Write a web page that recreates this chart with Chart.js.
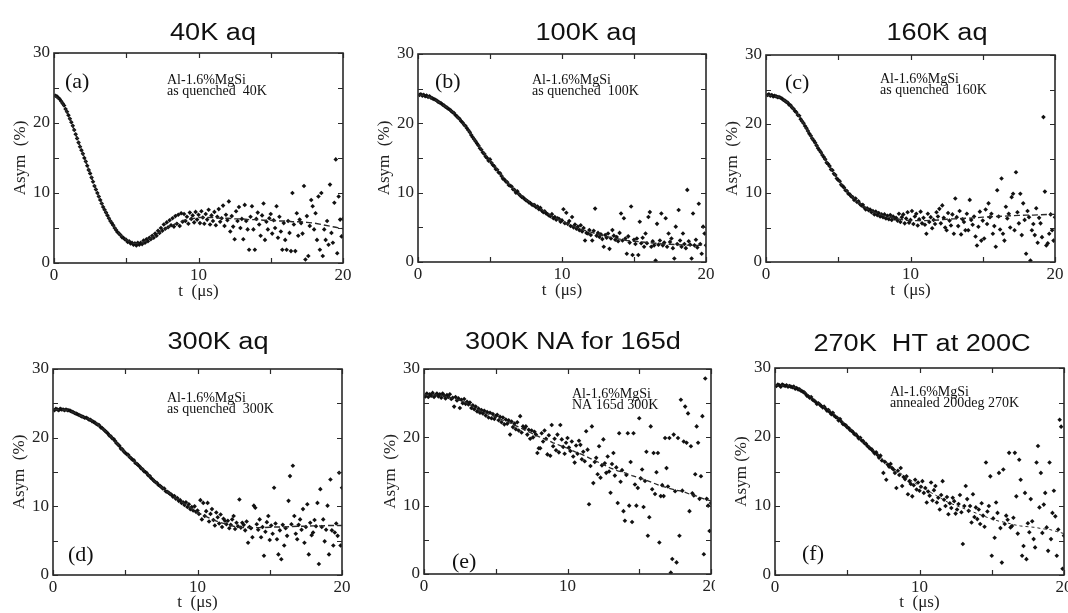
<!DOCTYPE html>
<html><head><meta charset="utf-8">
<script src="https://cdn.jsdelivr.net/npm/chart.js@4/dist/chart.umd.min.js"></script>
<style>
html,body{margin:0;padding:0;background:#fff;}
body{width:1068px;height:613px;position:relative;overflow:hidden;}
canvas{position:absolute;}
</style></head><body>
<script>
// ---------- data ----------
const times = [
0.1,0.2,0.3,0.4,0.5,0.6,0.7,0.8,0.9,1.0,
1.1,1.2,1.3,1.4,1.5,1.6,1.7,1.8,1.9,2.0,
2.1,2.2,2.3,2.4,2.5,2.6,2.7,2.8,2.9,3.0,
3.1,3.2,3.3,3.4,3.5,3.6,3.7,3.8,3.9,4.0,
4.1,4.2,4.3,4.4,4.5,4.6,4.7,4.8,4.9,5.0,
5.1,5.2,5.3,5.4,5.5,5.6,5.7,5.8,5.9,6.0,
6.1,6.2,6.3,6.4,6.5,6.6,6.7,6.8,6.9,7.0,
7.1,7.2,7.3,7.4,7.5,7.6,7.7,7.8,7.9,8.0,
8.1,8.2,8.3,8.4,8.5,8.6,8.7,8.8,8.9,9.0,
9.1,9.2,9.3,9.4,9.5,9.6,9.7,9.8,9.9,10.0,
10.1,10.2,10.3,10.4,10.5,10.6,10.7,10.8,10.9,11.0,
11.1,11.2,11.3,11.4,11.5,11.6,11.7,11.8,11.9,12.0,
12.1,12.2,12.3,12.4,12.5,12.6,12.7,12.8,12.9,13.0,
13.1,13.2,13.3,13.4,13.5,13.6,13.7,13.8,13.9,14.0,
14.1,14.2,14.3,14.4,14.5,14.6,14.7,14.8,14.9,15.0,
15.1,15.2,15.3,15.4,15.5,15.6,15.7,15.8,15.9,16.0,
16.1,16.2,16.3,16.4,16.5,16.6,16.7,16.8,16.9,17.0,
17.1,17.2,17.3,17.4,17.5,17.6,17.7,17.8,17.9,18.0,
18.1,18.2,18.3,18.4,18.5,18.6,18.7,18.8,18.9,19.0,
19.1,19.2,19.3,19.4,19.5,19.6,19.7,19.8,19.9,20.0];

const fitTimes = [0,0.5,1,1.5,2,2.5,3,3.5,4,4.5,5,5.5,6,6.5,7,7.5,8,8.5,9,9.5,10,
10.5,11,11.5,12,12.5,13,13.5,14,14.5,15,15.5,16,16.5,17,17.5,18,18.5,19,19.5,20];

const xTickMarks = [0,5,10,15,20];
const yTickMarks = [0,5,10,15,20,25,30];

const panelTitles = ['40K aq','100K aq','160K aq','300K aq','300K NA for 165d','270K  HT at 200C'];
const panelTags = ['(a)','(b)','(c)','(d)','(e)','(f)'];
const noteLine1 = ['Al-1.6%MgSi','Al-1.6%MgSi','Al-1.6%MgSi','Al-1.6%MgSi','Al-1.6%MgSi','Al-1.6%MgSi'];
const noteLine2 = ['as quenched  40K','as quenched  100K','as quenched  160K','as quenched  300K','NA 165d 300K','annealed 200deg 270K'];
const yTitles = ['Asym  (%)','Asym  (%)','Asym  (%)','Asym  (%)','Asym  (%)','Asym (%)'];
const xTitles = ['t  (\u03bcs)','t  (\u03bcs)','t  (\u03bcs)','t  (\u03bcs)','','t  (\u03bcs)'];

const asymA = [
23.9,23.8,23.6,23.4,23.1,22.8,22.5,22.0,21.6,21.1,
20.6,20.1,19.6,19.0,18.4,17.8,17.2,16.6,16.1,15.6,
15.0,14.5,13.9,13.3,12.8,12.2,11.6,11.0,10.5,10.0,
9.5,9.0,8.5,8.0,7.6,7.2,6.8,6.4,6.0,5.7,
5.4,5.0,4.7,4.4,4.2,4.0,3.7,3.6,3.4,3.3,
3.0,3.1,2.8,2.9,2.6,2.8,2.5,2.9,2.6,2.9,
2.7,3.2,2.9,3.4,3.1,3.6,3.4,3.9,3.6,4.2,
3.9,4.6,4.3,5.0,4.6,5.5,4.9,5.8,5.1,6.1,
5.4,6.4,5.2,6.7,5.6,6.9,5.3,7.1,5.9,7.0,
6.0,6.6,5.6,7.2,6.3,6.8,5.8,7.3,6.2,6.9,
5.7,7.4,6.5,5.6,7.0,6.2,7.6,5.5,6.8,6.0,
7.3,5.4,6.6,7.7,5.9,6.4,8.2,5.3,6.9,6.1,
8.8,4.5,6.7,5.2,3.4,7.4,6.0,8.0,5.0,6.3,
3.4,8.3,6.0,4.8,1.9,6.6,8.1,4.8,1.9,6.3,
7.2,5.5,3.9,6.8,8.5,3.3,5.9,4.8,6.4,7.0,
4.2,6.1,5.0,8.1,3.6,6.6,4.5,1.9,5.7,3.3,
1.9,6.0,4.3,1.7,10.0,5.5,1.7,7.1,3.9,6.2,
5.7,4.2,11.0,0.5,6.7,1.0,5.3,9.0,8.1,4.8,
7.1,3.3,9.5,1.9,10.0,1.0,4.8,3.3,6.0,2.6,
11.2,4.3,2.9,8.6,14.8,1.4,9.5,6.2,3.8,6.3];
const fitA = [24.0,23.1,21.1,18.4,15.6,12.8,10.0,7.6,5.7,4.2,3.3,2.8,2.8,3.3,4.0,4.6,5.2,5.7,6.1,6.3,6.5,
6.5,6.5,6.4,6.4,6.3,6.3,6.2,6.2,6.1,6.1,6.0,6.0,5.9,5.9,5.8,5.7,5.5,5.3,5.1,4.9];

const asymB = [
24.1,24.2,24.0,24.1,23.9,24.0,23.8,23.9,23.7,23.6,
23.5,23.4,23.3,23.1,23.0,22.9,22.7,22.6,22.4,22.3,
22.1,22.0,21.8,21.6,21.5,21.2,21.0,20.8,20.6,20.3,
20.1,19.8,19.6,19.3,19.0,18.7,18.3,18.0,17.7,17.4,
17.1,16.8,16.4,16.2,15.8,15.6,15.2,15.0,14.6,14.8,
14.3,14.0,13.8,13.4,13.3,12.9,12.8,12.4,12.0,11.9,
11.6,11.5,11.1,11.0,10.9,10.5,10.4,10.0,10.2,9.8,
9.6,9.4,9.3,9.1,8.9,8.8,8.6,8.5,8.3,8.2,
8.2,7.9,8.0,7.6,7.8,7.4,7.2,7.3,7.0,6.9,
6.7,6.6,6.9,6.3,6.5,6.1,6.3,6.2,5.8,6.0,
7.6,5.6,7.1,5.5,5.9,5.2,6.5,5.0,5.4,4.8,
5.1,4.6,5.3,4.4,4.9,3.1,4.2,4.1,4.6,3.9,
3.1,4.5,7.7,3.8,4.2,3.6,4.0,3.3,2.2,3.9,
3.5,4.1,1.9,3.4,4.6,3.8,3.2,3.6,3.0,4.2,
7.0,3.1,6.3,3.4,1.2,3.7,2.8,8.0,1.0,3.2,
2.6,3.4,1.0,5.8,2.7,3.5,2.2,4.1,2.7,6.5,
7.2,2.2,3.0,2.4,0.2,5.5,2.5,3.1,7.0,2.4,
2.8,6.3,2.2,4.1,2.9,3.4,2.0,0.5,5.1,2.6,
7.5,3.1,2.2,4.1,2.6,2.0,10.4,3.0,2.5,0.5,
7.0,2.4,3.2,2.1,8.4,2.6,1.2,5.1,4.1,2.4];
const fitB = [24.1,24.0,23.6,23.0,22.3,21.5,20.3,19.0,17.4,16.0,14.6,13.4,12.0,10.8,9.8,9.0,8.3,7.7,7.0,6.4,5.9,
5.4,5.0,4.6,4.3,4.0,3.7,3.5,3.3,3.1,3.0,2.9,2.8,2.7,2.6,2.55,2.5,2.45,2.4,2.4,2.4];

const asymC = [
24.2,24.3,24.1,24.2,24.0,24.1,24.0,23.9,23.9,23.8,
23.7,23.5,23.4,23.2,23.1,22.8,22.7,22.4,22.2,21.9,
21.7,21.3,21.2,20.7,20.4,20.1,19.7,19.4,19.0,18.6,
18.3,17.9,17.6,17.3,16.9,16.5,16.2,15.9,15.5,15.2,
14.9,14.4,14.2,13.9,13.4,13.3,12.8,12.6,12.1,11.9,
11.7,11.2,11.0,10.8,10.4,10.3,9.9,9.8,9.5,9.4,
9.0,9.2,8.7,8.8,8.4,8.2,8.3,7.9,7.6,7.8,
7.5,7.6,7.2,7.4,6.9,7.3,6.8,7.1,6.6,6.9,
6.5,6.9,6.3,6.7,6.2,6.8,6.1,6.6,6.3,6.4,
6.0,7.0,5.8,6.5,6.9,5.6,6.3,7.2,5.7,6.1,
7.4,5.5,6.6,7.0,5.3,6.2,7.3,5.6,6.4,5.4,
4.1,7.0,5.8,6.5,4.9,6.1,5.5,7.2,6.6,7.7,
5.6,8.2,6.4,5.0,4.6,7.1,6.0,5.3,6.9,4.1,
9.2,6.5,5.2,7.4,4.0,6.2,5.8,4.6,7.0,4.6,
9.0,6.1,5.4,6.6,3.7,2.4,5.1,7.3,3.1,6.0,
3.4,7.6,5.5,8.5,6.5,7.0,4.1,5.2,2.2,10.4,
6.6,4.7,12.1,4.1,3.1,8.0,6.3,7.0,5.0,9.4,
9.9,4.6,13.0,7.2,5.6,9.9,3.9,8.5,6.1,1.2,
7.4,6.5,0.2,4.6,5.5,3.9,7.8,2.8,6.4,5.6,
3.6,21.0,10.2,2.4,2.7,4.1,6.9,4.6,3.1,6.5];
const fitC = [24.2,24.1,23.8,23.1,22.0,20.4,18.6,16.9,15.2,13.5,11.9,10.5,9.4,8.5,7.7,7.2,6.8,6.5,6.3,6.1,6.0,
6.0,6.0,6.05,6.1,6.2,6.25,6.3,6.35,6.4,6.5,6.55,6.6,6.65,6.7,6.75,6.8,6.8,6.85,6.9,6.9];

const asymD = [
24.0,24.2,24.1,24.0,24.2,24.1,24.1,24.0,24.1,24.0,
24.0,23.9,23.8,23.7,23.6,23.5,23.4,23.3,23.2,23.1,
23.0,22.9,22.9,22.8,22.6,22.6,22.4,22.3,22.2,22.0,
21.9,21.8,21.5,21.4,21.2,21.0,20.8,20.6,20.3,20.2,
19.9,19.8,19.5,19.2,19.0,18.8,18.4,18.3,18.0,17.8,
17.6,17.5,17.2,17.0,16.8,16.7,16.3,16.2,16.0,15.8,
15.5,15.4,15.1,15.0,14.8,14.5,14.4,14.1,13.9,13.7,
13.5,13.4,13.1,13.0,12.8,12.6,12.6,12.2,12.1,12.0,
11.8,11.7,11.4,11.5,11.1,11.2,10.8,10.9,10.5,10.6,
10.2,10.6,9.9,10.3,9.6,9.9,9.4,10.0,9.2,9.4,
8.9,10.9,8.1,10.5,8.6,9.3,10.5,7.8,8.9,9.6,
8.0,7.2,9.1,8.4,7.5,8.8,7.0,8.2,7.9,7.4,
7.9,6.8,7.3,8.1,8.6,6.7,7.6,7.1,11.0,6.9,
7.6,7.3,6.5,7.8,4.7,7.0,6.8,5.5,10.1,9.8,
7.4,6.6,8.1,5.5,7.0,2.8,6.3,7.7,8.6,5.1,
7.2,6.0,12.7,7.5,5.2,3.0,6.5,2.3,7.3,4.3,
6.8,5.7,10.8,14.4,7.4,15.9,8.6,6.0,5.2,7.3,
8.1,6.6,9.6,4.7,7.0,10.3,3.0,7.6,5.8,6.2,
8.0,7.1,10.5,1.6,12.5,7.0,8.1,4.9,6.6,10.1,
3.0,13.9,6.5,4.3,6.2,7.5,5.7,14.9,4.3,12.7];
const fitD = [24.1,24.1,24.0,23.6,23.1,22.7,22.1,21.2,20.2,19.0,17.8,16.8,15.8,14.8,13.7,12.8,12.0,11.2,10.5,9.8,9.1,
8.6,8.1,7.7,7.4,7.1,6.95,6.9,6.9,6.9,6.95,7.0,7.0,7.05,7.1,7.1,7.15,7.15,7.2,7.2,7.2];

const asymE = [
26.0,26.4,25.9,26.3,26.1,26.5,25.9,26.2,26.4,26.0,
26.3,25.8,26.4,26.1,25.7,26.2,25.9,26.3,25.6,25.8,
24.5,25.9,25.4,25.7,24.3,25.5,25.0,25.6,24.9,25.2,
24.8,25.1,24.3,24.7,24.1,24.5,23.8,24.2,23.6,24.0,
23.5,23.9,23.2,23.7,22.9,23.6,22.8,23.4,22.7,23.1,
23.3,22.5,23.0,22.2,22.9,21.9,22.6,22.0,22.5,20.4,
22.3,21.5,22.0,21.2,22.2,21.0,23.1,20.7,21.6,21.3,
21.6,20.4,21.1,19.8,21.0,20.0,20.8,20.4,17.7,18.4,
18.4,20.6,19.4,21.0,19.8,17.5,20.3,17.3,21.8,18.7,
19.8,18.1,20.4,17.8,21.8,19.7,18.6,17.6,19.2,19.9,
18.5,18.0,19.4,17.2,16.3,18.8,17.6,19.5,18.9,16.8,
17.9,16.5,20.9,18.2,10.2,15.8,21.6,13.3,16.4,17.0,
14.6,18.7,14.1,15.9,19.7,16.2,14.8,17.2,15.0,11.9,
16.1,17.7,14.4,15.6,10.4,20.6,13.5,15.2,9.2,7.8,
14.5,20.6,10.0,16.4,7.6,20.6,13.1,10.0,12.6,22.8,
14.0,15.3,9.8,13.6,17.9,5.6,8.3,21.6,12.4,17.7,
11.7,14.9,17.7,4.6,11.4,13.0,11.4,19.9,15.5,12.8,
19.9,0.2,2.2,20.4,12.1,1.7,19.9,5.6,25.5,12.2,
19.4,24.5,19.2,23.5,9.2,18.7,11.8,11.5,14.6,21.6,
19.2,11.0,14.3,23.1,2.9,28.6,11.0,10.0,6.3,10.4];
const fitE = [26.2,26.2,26.2,26.0,25.7,25.4,25.0,24.4,23.8,23.4,23.0,22.5,22.1,21.6,21.1,20.6,20.1,19.7,19.2,18.8,18.4,
17.9,17.5,17.0,16.5,16.0,15.5,15.1,14.8,14.4,14.1,13.7,13.3,12.9,12.6,12.3,12.1,11.7,11.4,11.0,10.7];

const asymF = [
27.4,27.6,27.5,27.3,27.6,27.5,27.4,27.5,27.3,27.4,
27.3,27.2,27.3,27.0,27.1,26.9,26.9,26.7,26.6,26.5,
26.3,26.0,25.9,25.7,25.8,25.4,25.3,25.1,24.8,24.9,
24.7,24.5,24.3,24.4,24.1,23.8,23.9,23.6,23.3,23.5,
23.1,22.9,22.8,22.4,22.6,22.2,21.9,21.8,21.7,21.4,
21.3,21.0,20.9,20.7,20.4,20.4,20.1,19.8,19.9,19.5,
19.4,19.1,19.0,18.7,18.5,18.3,18.2,17.9,17.6,17.8,
17.4,17.0,17.3,16.6,14.8,16.4,13.8,16.0,15.7,16.1,
15.5,15.3,14.8,12.6,15.1,14.5,15.5,12.9,14.2,13.9,
14.3,11.7,13.6,13.2,11.4,13.0,13.8,12.4,13.4,12.2,
12.8,13.6,11.9,12.6,10.5,12.1,11.5,13.4,10.8,12.3,
12.9,10.5,11.2,9.5,11.6,13.6,10.9,10.0,11.3,8.8,
10.4,9.7,11.2,10.7,8.9,9.5,10.3,11.6,9.1,4.5,
10.0,12.9,11.0,9.3,10.0,7.6,11.7,8.4,9.8,8.1,
9.5,7.4,10.4,8.6,7.0,16.3,9.2,10.0,14.3,2.8,
8.2,5.4,10.5,9.0,14.8,6.8,1.8,15.3,7.4,8.6,
8.0,17.7,6.9,7.1,8.3,17.7,11.4,6.0,16.7,13.8,
2.8,4.2,11.9,2.3,7.5,6.2,11.0,7.8,5.2,4.0,
16.3,18.7,9.8,14.8,6.1,10.2,11.9,6.9,3.5,16.3,
5.2,9.0,12.2,8.5,2.8,6.6,22.5,21.5,0.9,5.7];
const fitF = [27.5,27.5,27.4,27.1,26.6,25.8,24.9,24.2,23.5,22.5,21.5,20.6,19.6,18.6,17.7,16.7,15.8,15.0,14.3,13.6,12.9,
12.3,11.7,11.1,10.5,10.1,9.7,9.3,8.9,8.5,8.1,7.8,7.6,7.3,7.1,7.0,6.9,6.7,6.6,6.3,6.0];

// ---------- layout (page pixels) ----------
const panelSeries = [asymA, asymB, asymC, asymD, asymE, asymF];
const panelFits = [fitA, fitB, fitC, fitD, fitE, fitF];
const boxes = [
 {cx:0,   cy:0,   cw:355, ch:306, L:54,  T:53,  R:343,  B:263, xh:39, tx:213, ty:40,  tagX:65,  tagY:82,  nX:167, nY:80,  dash:[6,3], fw:1.4},
 {cx:355, cy:0,   cw:359, ch:306, L:418, T:54,  R:706,  B:262, xh:39, tx:586, ty:40,  tagX:435, tagY:82,  nX:532, nY:80,  dash:[6,3], fw:1.4},
 {cx:714, cy:0,   cw:354, ch:306, L:766, T:55,  R:1055, B:262, xh:39, tx:937, ty:40,  tagX:785, tagY:83,  nX:880, nY:79,  dash:[6,3], fw:1.4},
 {cx:0,   cy:306, cw:355, ch:307, L:53,  T:369, R:342,  B:575, xh:38, tx:218, ty:349, tagX:68,  tagY:555, nX:167, nY:398, dash:[6,3], fw:1.4},
 {cx:355, cy:306, cw:360, ch:307, L:424, T:369, R:713,  B:574, xh:38, tx:573, ty:349, tagX:452, tagY:562, nX:572, nY:394, dash:[5,3], fw:1.3},
 {cx:715, cy:306, cw:353, ch:307, L:775, T:368, R:1066, B:575, xh:38, tx:922, ty:351, tagX:802, tagY:554, nX:890, nY:392, dash:[3,3], fw:1.0}
];

const deco = {
  id:'deco',
  beforeDraw(chart){
    const c = chart.ctx;
    c.save(); c.fillStyle='#fff'; c.fillRect(0,0,chart.width,chart.height); c.restore();
  },
  afterDraw(chart){
    const i = chart.options.plugins.deco.idx;
    const b = boxes[i];
    const c = chart.ctx, a = chart.chartArea, sx = chart.scales.x, sy = chart.scales.y;
    c.save();
    c.strokeStyle = '#2a2a2a'; c.lineWidth = 1.6;
    c.strokeRect(a.left, a.top, a.right - a.left, a.bottom - a.top);
    c.lineWidth = 1.2;
    c.beginPath();
    xTickMarks.forEach(v => {
      const p = Math.round(sx.getPixelForValue(v)) + 0.5;
      c.moveTo(p, a.bottom); c.lineTo(p, a.bottom - 5);
      c.moveTo(p, a.top); c.lineTo(p, a.top + 5);
    });
    yTickMarks.forEach(v => {
      const p = Math.round(sy.getPixelForValue(v)) + 0.5;
      c.moveTo(a.left, p); c.lineTo(a.left + 5, p);
      c.moveTo(a.right, p); c.lineTo(a.right - 5, p);
    });
    c.stroke();
    c.fillStyle = '#111';
    // panel title
    c.font = '23px "Liberation Sans", Arial, sans-serif';
    c.textAlign = 'center'; c.textBaseline = 'alphabetic';
    c.save(); c.translate(b.tx - b.cx, b.ty - b.cy); c.scale(1.18, 1);
    c.fillText(panelTitles[i], 0, 0); c.restore();
    // tag
    c.font = '22px "Liberation Serif", serif';
    c.textAlign = 'left'; c.textBaseline = 'middle';
    c.fillText(panelTags[i], b.tagX - b.cx, b.tagY - b.cy);
    // note
    c.font = '14px "Liberation Serif", serif';
    c.fillText(noteLine1[i], b.nX - b.cx, b.nY - b.cy);
    c.fillText(noteLine2[i], b.nX - b.cx, b.nY - b.cy + 11.5);
    c.restore();
  }
};

function makeChart(i){
  const b = boxes[i];
  const cv = document.createElement('canvas');
  cv.width = b.cw; cv.height = b.ch;
  cv.style.left = b.cx + 'px'; cv.style.top = b.cy + 'px';
  cv.style.width = b.cw + 'px'; cv.style.height = b.ch + 'px';
  document.body.appendChild(cv);
  const tickFont = {family:'"Liberation Serif", serif', size:17};
  const titleFont = {family:'"Liberation Serif", serif', size:17};
  new Chart(cv, {
    type:'scatter',
    data:{datasets:[
      {type:'line', data: fitTimes.map((t,k)=>({x:t, y:panelFits[i][k]})),
       borderColor:'#2a2a2a', borderWidth:b.fw, borderDash:b.dash, pointRadius:0, fill:false, tension:0, order:0},
      {type:'scatter', data: times.map((t,k)=>({x:t, y:panelSeries[i][k]})),
       pointStyle:'rectRot', pointRadius:2.3, backgroundColor:'#111', borderColor:'#111', borderWidth:0, order:1}
    ]},
    options:{
      responsive:false, animation:false, devicePixelRatio:1,
      layout:{padding:{left:b.L - 44 - b.cx, top:b.T - b.cy, right:b.cx + b.cw - b.R, bottom:b.cy + b.ch - b.B - b.xh}},
      plugins:{legend:{display:false}, tooltip:{enabled:false}, deco:{idx:i}},
      scales:{
        x:{type:'linear', min:0, max:20,
           ticks:{stepSize:10, padding:2, color:'#222', font:tickFont, maxRotation:0},
           grid:{display:false, drawTicks:false}, border:{display:false},
           title:{display: xTitles[i] !== '', text: xTitles[i], padding:0, color:'#222', font:titleFont},
           afterFit(s){ s.height = b.xh; s.paddingLeft = 0; s.paddingRight = 0; }},
        y:{type:'linear', min:0, max:30,
           ticks:{stepSize:10, padding:4, color:'#222', font:tickFont},
           grid:{display:false, drawTicks:false}, border:{display:false},
           title:{display:true, text: yTitles[i], padding:0, color:'#222', font:titleFont},
           afterFit(s){ s.width = 44; s.paddingTop = 0; s.paddingBottom = 0; }}
      }
    },
    plugins:[deco]
  });
}
for (let i = 0; i < 6; i++) makeChart(i);
</script>
</body></html>
